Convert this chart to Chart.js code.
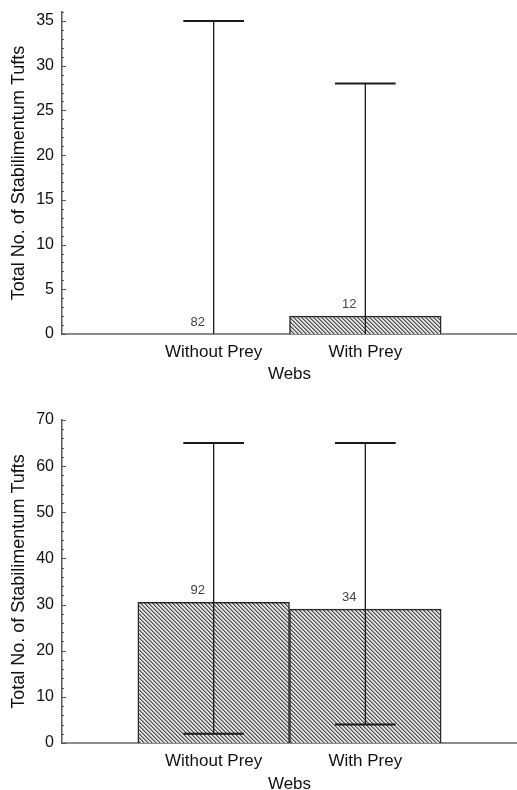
<!DOCTYPE html>
<html>
<head>
<meta charset="utf-8">
<script src="https://cdn.jsdelivr.net/npm/chart.js@4.4.1/dist/chart.umd.min.js"></script>
<style>
  html, body { margin: 0; padding: 0; background: #fff; overflow: hidden; }
  #wrap { position: relative; width: 517px; height: 790px; }
  .box { position: absolute; left: 0; width: 517px; }
</style>
</head>
<body>
<div id="wrap">
  <div class="box" style="top:0;height:385px"><canvas id="top"></canvas></div>
  <div class="box" style="top:395px;height:400px"><canvas id="bottom"></canvas></div>
</div>
<script>
const categories = ['Without Prey', 'With Prey'];

// upper panel
const topMedians = [0, 2];
const topLow = [0, 0];
const topHigh = [35, 28];
const topN = [82, 12];
const topTicks = [0, 5, 10, 15, 20, 25, 30, 35];

// lower panel
const botMedians = [30.5, 29];
const botLow = [2, 4];
const botHigh = [65, 65];
const botN = [92, 34];
const botTicks = [0, 10, 20, 30, 40, 50, 60, 70];

const FONT = '"Liberation Sans", Arial, sans-serif';

// fine diagonal hatch like the original
function hatch() {
  const c = document.createElement('canvas');
  c.width = 4; c.height = 4;
  const g = c.getContext('2d');
  g.fillStyle = '#e2e2e2';
  g.fillRect(0, 0, 4, 4);
  for (let i = 0; i < 4; i++) {
    g.fillStyle = '#4a4a4a';
    g.fillRect(i, i, 1, 1);
    g.fillStyle = '#999';
    g.fillRect((i + 1) % 4, i, 1, 1);
  }
  return g.createPattern(c, 'repeat');
}

// error bars, sample sizes and the little ticks inside the y axis
const extras = {
  id: 'extras',
  afterDatasetsDraw(chart, args, opts) {
    const ctx = chart.ctx;
    const y = chart.scales.y;
    const meta = chart.getDatasetMeta(0);
    const area = chart.chartArea;
    ctx.save();

    // ticks
    ctx.strokeStyle = '#555';
    ctx.lineWidth = 1;
    for (let v = y.min; v <= y.max; v += opts.minor) {
      const py = Math.round(y.getPixelForValue(v)) + 0.5;
      const major = opts.ticks.includes(v);
      ctx.beginPath();
      ctx.moveTo(area.left, py);
      ctx.lineTo(area.left + (major ? 4 : 2), py);
      ctx.stroke();
    }

    opts.medians.forEach((m, i) => {
      const bar = meta.data[i + 1];
      const cx = bar.x;
      const half = bar.width * 0.2;
      const yHi = y.getPixelForValue(opts.high[i]);
      const yLo = y.getPixelForValue(opts.low[i]);
      ctx.strokeStyle = '#1a1a1a';
      ctx.lineWidth = 1.3;
      ctx.beginPath();
      ctx.moveTo(cx, yHi);
      ctx.lineTo(cx, yLo);
      ctx.stroke();
      ctx.lineWidth = 2;
      ctx.beginPath();
      ctx.moveTo(cx - half, yHi);
      ctx.lineTo(cx + half, yHi);
      if (opts.low[i] > y.min) {
        ctx.moveTo(cx - half, yLo);
        ctx.lineTo(cx + half, yLo);
      }
      ctx.stroke();

      ctx.fillStyle = '#444';
      ctx.font = '13px ' + FONT;
      ctx.textAlign = 'center';
      ctx.textBaseline = 'middle';
      ctx.fillText(String(opts.n[i]), cx - 16, y.getPixelForValue(m) - 12);
    });
    ctx.restore();
  }
};

function makeChart(id, medians, low, high, n, ticks, yMax, minor, padTop, xHeight) {
  const labels = [''].concat(categories, ['']);
  const values = [null].concat(medians, [null]);
  return new Chart(document.getElementById(id), {
    type: 'bar',
    data: {
      labels: labels,
      datasets: [{
        data: values,
        backgroundColor: hatch(),
        borderColor: '#2a2a2a',
        borderWidth: 1.5,
        borderSkipped: 'bottom',
        barPercentage: 1,
        categoryPercentage: 1
      }]
    },
    options: {
      responsive: true,
      maintainAspectRatio: false,
      animation: false,
      layout: { padding: { top: padTop, right: 0, bottom: 0, left: 0 } },
      plugins: {
        legend: { display: false },
        tooltip: { enabled: false },
        extras: { medians, low, high, n, ticks, minor }
      },
      scales: {
        x: {
          offset: false,
          afterFit: s => {
            s.height = xHeight;
            s.paddingLeft = 0;
            s.paddingRight = 0;
          },
          grid: { display: false, drawTicks: false },
          border: { display: true, color: '#8c8c8c', width: 2 },
          ticks: {
            padding: 8, maxRotation: 0, autoSkip: false,
            color: '#111', font: { family: FONT, size: 17 }
          },
          title: {
            display: true, text: 'Webs', color: '#111',
            font: { family: FONT, size: 17 },
            padding: { top: 0, bottom: 0 }
          }
        },
        y: {
          min: 0,
          max: yMax,
          afterFit: s => {
            s.width = 62;
            s.paddingTop = 0;
            s.paddingBottom = 0;
          },
          afterBuildTicks: s => {
            s.ticks = ticks.map(v => ({ value: v }));
          },
          grid: { display: false, drawTicks: false },
          border: { display: true, color: '#5a5a5a', width: 1.5 },
          ticks: {
            padding: 8,
            color: '#111', font: { family: FONT, size: 16 }
          },
          title: {
            display: true, text: 'Total No. of Stabilimentum Tufts', color: '#111',
            font: { family: FONT, size: 18 },
            padding: { top: 8, bottom: 0 }
          }
        }
      }
    },
    plugins: [extras]
  });
}

makeChart('top', topMedians, topLow, topHigh, topN, topTicks, 36, 1, 12, 51);
makeChart('bottom', botMedians, botLow, botHigh, botN, botTicks, 70, 2, 25, 52);
</script>
</body>
</html>
